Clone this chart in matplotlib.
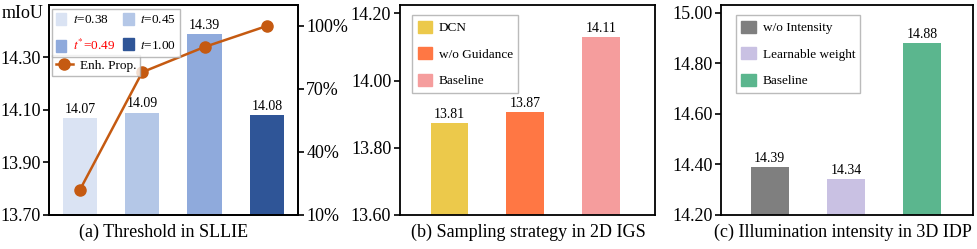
import matplotlib
matplotlib.use("Agg")
import matplotlib.pyplot as plt
from matplotlib.patches import Patch
from matplotlib.lines import Line2D
import numpy as np

plt.rcParams['font.family'] = ['Liberation Serif', 'DejaVu Serif']
plt.rcParams['mathtext.fontset'] = 'stix'

# (a) threshold
thr_labels = ['$t$=0.38', '$t$=0.45', '$t^{*}$=0.49', '$t$=1.00']
thr_miou = [14.07, 14.09, 14.39, 14.08]
thr_prop = [22, 78, 90, 100]
thr_colors = ['#dae3f3', '#b4c7e7', '#8faadc', '#2f5597']

# (b) sampling strategy
samp_labels = ['DCN', 'w/o Guidance', 'Baseline']
samp_height = [13.875, 13.905, 14.13]
samp_text = ['13.81', '13.87', '14.11']
samp_colors = ['#ecc94b', '#ff7744', '#f59d9d']

# (c) illumination intensity
illu_labels = ['w/o Intensity', 'Learnable weight', 'Baseline']
illu_miou = [14.39, 14.34, 14.88]
illu_colors = ['#7f7f7f', '#c9c1e3', '#5bb68e']

fig = plt.figure(figsize=(9.77, 2.49), dpi=100)
axa = fig.add_axes([0.050, 0.137, 0.255, 0.843])
axb = fig.add_axes([0.409, 0.137, 0.261, 0.843])
axc = fig.add_axes([0.738, 0.137, 0.258, 0.843])

tick_fs = 13
lab_fs = 10
leg_kw = dict(fontsize=9.5, frameon=True, fancybox=False, edgecolor='#aaaaaa',
              handlelength=1.1, handleheight=1.0, handletextpad=0.5,
              labelspacing=1.0, borderpad=0.4, borderaxespad=0)
lega_kw = dict(fontsize=9.5, frameon=True, fancybox=False, edgecolor='#aaaaaa',
               handlelength=0.8, handleheight=1.0, handletextpad=0.5,
               labelspacing=0.9, borderpad=0.3, borderaxespad=0)

for ax in (axa, axb, axc):
    ax.set_xticks([])
    ax.tick_params(axis='y', labelsize=tick_fs, direction='out', length=4, width=1.2, pad=2)
    for s in ax.spines.values():
        s.set_linewidth(1.3)

# ---- panel a
x = np.arange(len(thr_miou))
axa.bar(x, thr_miou, width=0.55, color=thr_colors)
axa.set_ylim(13.70, 14.50)
axa.set_xlim(-0.5, 3.5)
axa.set_yticks([13.70, 13.90, 14.10, 14.30])
axa.set_yticklabels(['13.70', '13.90', '14.10', '14.30'])
for xi, v in zip(x, thr_miou):
    axa.text(xi, v + 0.008, f'{v:.2f}', ha='center', va='bottom', fontsize=lab_fs)
axa.text(-0.02, 1.0, 'mIoU', transform=axa.transAxes, ha='right', va='top', fontsize=tick_fs)

axr = axa.twinx()
axr.set_position(axa.get_position())
axr.plot(x, thr_prop, color='#c55a11', lw=1.8, marker='o', ms=8)
axr.set_ylim(10, 110)
axr.set_yticks([10, 40, 70, 100])
axr.set_yticklabels(['10%', '40%', '70%', '100%'])
axr.tick_params(axis='y', labelsize=tick_fs, length=4, width=1.2, pad=2)
for s in axr.spines.values():
    s.set_linewidth(1.3)

# bar legend (2x2) and line legend below it
bar_handles = [Patch(color=thr_colors[0]), Patch(color=thr_colors[2]),
               Patch(color=thr_colors[1]), Patch(color=thr_colors[3])]
bar_labels = [thr_labels[0], thr_labels[2], thr_labels[1], thr_labels[3]]
leg2 = axr.legend([Line2D([], [], color='#c55a11', lw=1.8, marker='o', ms=8)], ['Enh. Prop.'],
                  loc='upper left', bbox_to_anchor=(0.012, 0.762),
                  **dict(lega_kw, handlelength=1.3))
leg2.get_frame().set_linewidth(1.0)
axr.add_artist(leg2)
leg1 = axr.legend(bar_handles, bar_labels, ncol=2, loc='upper left',
                  columnspacing=0.6, bbox_to_anchor=(0.012, 0.981), **lega_kw)
leg1.get_frame().set_linewidth(1.0)
leg1.get_texts()[1].set_color('red')

# ---- panel b
xb = np.arange(len(samp_height))
axb.bar(xb, samp_height, width=0.5, color=samp_colors)
axb.set_ylim(13.60, 14.225)
axb.set_xlim(-0.66, 2.71)
axb.set_yticks([13.60, 13.80, 14.00, 14.20])
axb.set_yticklabels(['13.60', '13.80', '14.00', '14.20'])
for xi, h, t in zip(xb, samp_height, samp_text):
    axb.text(xi, h + 0.006, t, ha='center', va='bottom', fontsize=lab_fs)
legb = axb.legend([Patch(color=c) for c in samp_colors], samp_labels, loc='upper left',
                  bbox_to_anchor=(0.05, 0.95), **leg_kw)
legb.get_frame().set_linewidth(1.0)

# ---- panel c
xc = np.arange(len(illu_miou))
axc.bar(xc, illu_miou, width=0.5, color=illu_colors)
axc.set_ylim(14.20, 15.03)
axc.set_xlim(-0.64, 2.67)
axc.set_yticks([14.20, 14.40, 14.60, 14.80, 15.00])
axc.set_yticklabels(['14.20', '14.40', '14.60', '14.80', '15.00'])
for xi, v in zip(xc, illu_miou):
    axc.text(xi, v + 0.008, f'{v:.2f}', ha='center', va='bottom', fontsize=lab_fs)
legc = axc.legend([Patch(color=c) for c in illu_colors], illu_labels, loc='upper left',
                  bbox_to_anchor=(0.06, 0.95), **leg_kw)
legc.get_frame().set_linewidth(1.0)

# captions
fig.text(164 / 977, 0.068, '(a) Threshold in SLLIE', ha='center', va='center', fontsize=13)
fig.text(528 / 977, 0.068, '(b) Sampling strategy in 2D IGS', ha='center', va='center', fontsize=13)
fig.text(843 / 977, 0.068, '(c) Illumination intensity in 3D IDP', ha='center', va='center', fontsize=13)

fig.savefig('out.png', dpi=100)
